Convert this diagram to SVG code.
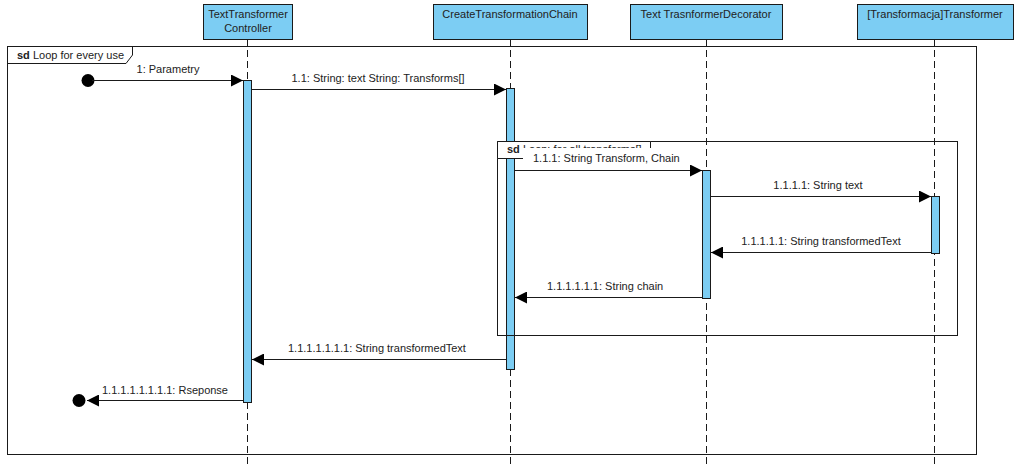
<svg xmlns="http://www.w3.org/2000/svg" width="1019" height="467" viewBox="0 0 1019 467">
<defs>
<style>
text{font-family:"Liberation Sans",Arial,sans-serif;font-size:11px;fill:#222;}
.head{fill:#7ccdf3;stroke:#1a1a1a;stroke-width:1;}
.life{stroke:#1a1a1a;stroke-width:1;stroke-dasharray:7,4;fill:none;}
.bar{fill:#7ccdf3;stroke:#1a1a1a;stroke-width:1;}
.frame{fill:none;stroke:#1a1a1a;stroke-width:1;}
.tab{fill:#fff;stroke:#1a1a1a;stroke-width:1;}
.msg{stroke:#1a1a1a;stroke-width:1;fill:none;marker-end:url(#ah);}
.hc{text-anchor:middle;}
</style>
<marker id="ah" viewBox="0 0 12 12" refX="12" refY="6" markerWidth="12" markerHeight="12" markerUnits="userSpaceOnUse" orient="auto">
<path d="M0,0 L12,6 L0,12 Z" fill="#000"/>
</marker>
</defs>
<rect width="1019" height="467" fill="#fff"/>

<g id="frame-outer">
<rect class="frame" x="7.5" y="46.5" width="969" height="408"/>
<path class="frame" d="M7.5,63.5 H126 L132.5,55 V46.5"/>
<text x="17" y="59"><tspan font-weight="bold">sd</tspan> Loop  for every use</text>
</g>

<g id="lifelines">
<line class="life" x1="247.5" y1="39" x2="247.5" y2="467"/>
<line class="life" x1="510.5" y1="39" x2="510.5" y2="467"/>
<line class="life" x1="706.5" y1="39" x2="706.5" y2="467"/>
<line class="life" x1="934.5" y1="39" x2="934.5" y2="467"/>
</g>

<g id="n-controller">
<rect class="head" x="203.5" y="4.5" width="89" height="35"/>
<text class="hc" x="248" y="18">TextTransformer</text>
<text class="hc" x="248" y="32">Controller</text>
</g>
<g id="n-chain">
<rect class="head" x="433.5" y="4.5" width="154" height="35"/>
<text class="hc" x="510" y="18">CreateTransformationChain</text>
</g>
<g id="n-decorator">
<rect class="head" x="630.5" y="4.5" width="152" height="35"/>
<text class="hc" x="706" y="18">Text TrasnformerDecorator</text>
</g>
<g id="n-transformer">
<rect class="head" x="857.5" y="4.5" width="156" height="35"/>
<text class="hc" x="935" y="18">[Transformacja]Transformer</text>
</g>

<g id="activations">
<rect class="bar" x="243.5" y="80.5" width="8" height="322"/>
<rect class="bar" x="506.5" y="88.5" width="8" height="281"/>
<rect class="bar" x="702.5" y="170.5" width="8" height="128"/>
<rect class="bar" x="931.5" y="196.5" width="8" height="57"/>
</g>

<g id="frame-inner">
<rect class="frame" x="497.5" y="141.5" width="460" height="194"/>
<path class="tab" d="M497.5,141.5 V158.5 H644 L650.5,151 V141.5 Z"/>
<text x="507" y="153"><tspan font-weight="bold">sd</tspan> Loop:  for all transforms[]</text>
</g>

<g id="start-end">
<circle cx="88" cy="80.5" r="6.5" fill="#000"/>
<circle cx="79" cy="400.5" r="6.5" fill="#000"/>
</g>

<g id="connectors">
<line class="msg" x1="92" y1="80.5" x2="243" y2="80.5"/>
<text class="hc" x="168" y="73">1: Parametry</text>

<line class="msg" x1="252" y1="89.5" x2="506" y2="89.5"/>
<text class="hc" x="378" y="82">1.1: String: text String: Transforms[]</text>

<rect x="523" y="148" width="157" height="16" fill="#fff"/>
<line class="msg" x1="515" y1="170.5" x2="702" y2="170.5"/>
<text x="533" y="162">1.1.1: String Transform, Chain</text>

<line class="msg" x1="711" y1="196.5" x2="931" y2="196.5"/>
<text class="hc" x="818" y="189">1.1.1.1: String text</text>

<line class="msg" x1="931" y1="252.5" x2="711" y2="252.5"/>
<text class="hc" x="821" y="245">1.1.1.1.1: String transformedText</text>

<line class="msg" x1="702" y1="297.5" x2="515" y2="297.5"/>
<text x="547" y="290">1.1.1.1.1.1: String chain</text>

<line class="msg" x1="506" y1="359.5" x2="252" y2="359.5"/>
<text x="288" y="352">1.1.1.1.1.1.1: String transformedText</text>

<line class="msg" x1="243" y1="400.5" x2="87" y2="400.5"/>
<text x="102" y="394">1.1.1.1.1.1.1.1: Rseponse</text>
</g>
</svg>
